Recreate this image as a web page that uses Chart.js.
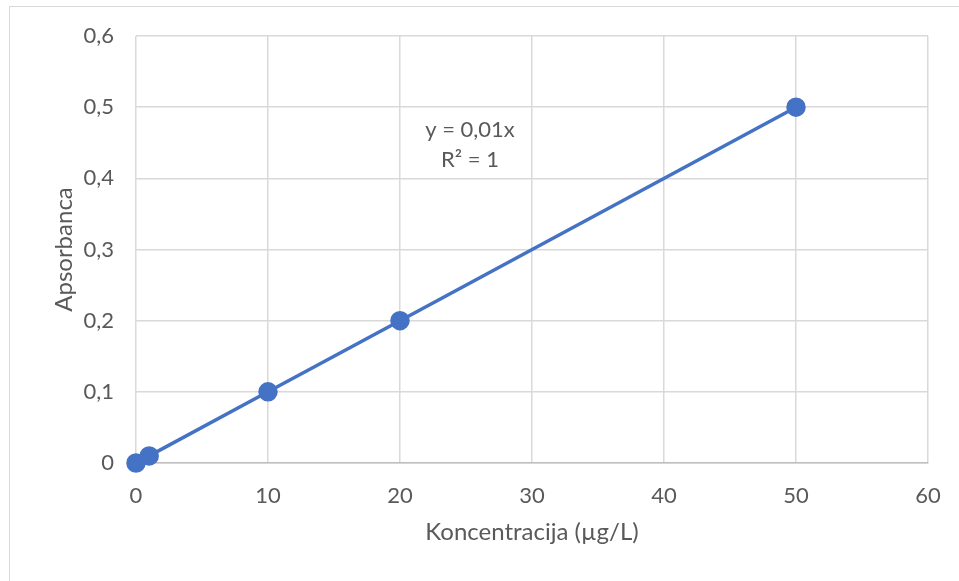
<!DOCTYPE html>
<html>
<head>
<meta charset="utf-8">
<script src="https://cdn.jsdelivr.net/npm/chart.js@4.4.1/dist/chart.umd.min.js"></script>
<style>
  html, body { margin: 0; padding: 0; background: #fff; }
  #wrap { position: relative; width: 959px; height: 581px; overflow: hidden; }
  #frame { position: absolute; left: 9px; top: 6px; width: 1000px; height: 1000px; border: 1px solid #d9d9d9; }
  canvas { position: absolute; left: 0; top: 0; }
</style>
</head>
<body>
<div id="wrap">
  <div id="frame"></div>
  <canvas id="chart" width="959" height="581"></canvas>
</div>
<script>
// koncentracija (µg/L) i apsorbanca
const concentration = [0, 1, 10, 20, 50];
const absorbance = [0, 0.01, 0.1, 0.2, 0.5];

const yTickLabels = ["0", "0,1", "0,2", "0,3", "0,4", "0,5", "0,6"];
const trendText = ["y = 0,01x", "R² = 1"];
const trendTextAt = { x: 25.3, y: [0.468, 0.426] };

const points = concentration.map((c, i) => ({ x: c, y: absorbance[i] }));

const FONT = "Lato, 'Open Sans', sans-serif";
const TXT = "#595959";

const trendLabel = {
  id: "trendLabel",
  afterDatasetsDraw(chart) {
    const { ctx, scales } = chart;
    ctx.save();
    ctx.font = "22px " + FONT;
    ctx.fillStyle = TXT;
    ctx.textAlign = "center";
    ctx.textBaseline = "middle";
    trendText.forEach((t, i) => {
      ctx.fillText(t, scales.x.getPixelForValue(trendTextAt.x), scales.y.getPixelForValue(trendTextAt.y[i]));
    });
    ctx.restore();
  }
};

new Chart(document.getElementById("chart"), {
  type: "scatter",
  data: {
    datasets: [{
      data: points,
      showLine: true,
      clip: false,
      borderColor: "#4472C4",
      backgroundColor: "#4472C4",
      borderWidth: 3.5,
      pointRadius: 8,
      pointHoverRadius: 8
    }]
  },
  options: {
    responsive: false,
    animation: false,
    layout: { padding: { left: 50, right: 31, top: 36, bottom: 30 } },
    plugins: { legend: { display: false }, tooltip: { enabled: false } },
    scales: {
      x: {
        min: 0, max: 60,
        ticks: { stepSize: 10, color: TXT, font: { family: FONT, size: 22 }, padding: 20 },
        grid: { color: "#d9d9d9", lineWidth: 1.5, drawTicks: false },
        border: { color: "#bfbfbf", width: 1.5 },
        title: { display: true, text: "Koncentracija (µg/L)", color: TXT, font: { family: FONT, size: 24 }, padding: { top: 8 } },
        afterFit(s) { s.height = 88; s.paddingLeft = 0; s.paddingRight = 0; }
      },
      y: {
        min: 0, max: 0.6,
        ticks: {
          stepSize: 0.1, color: TXT, font: { family: FONT, size: 22 }, padding: 22,
          callback: (v, i) => yTickLabels[i]
        },
        grid: { color: "#d9d9d9", lineWidth: 1.5, drawTicks: false },
        border: { display: false },
        title: { display: true, text: "Apsorbanca", color: TXT, font: { family: FONT, size: 24 }, padding: { top: 0, bottom: 0 } },
        afterFit(s) { s.width = 86; s.paddingTop = 0; s.paddingBottom = 0; }
      }
    }
  },
  plugins: [trendLabel]
});
</script>
</body>
</html>
